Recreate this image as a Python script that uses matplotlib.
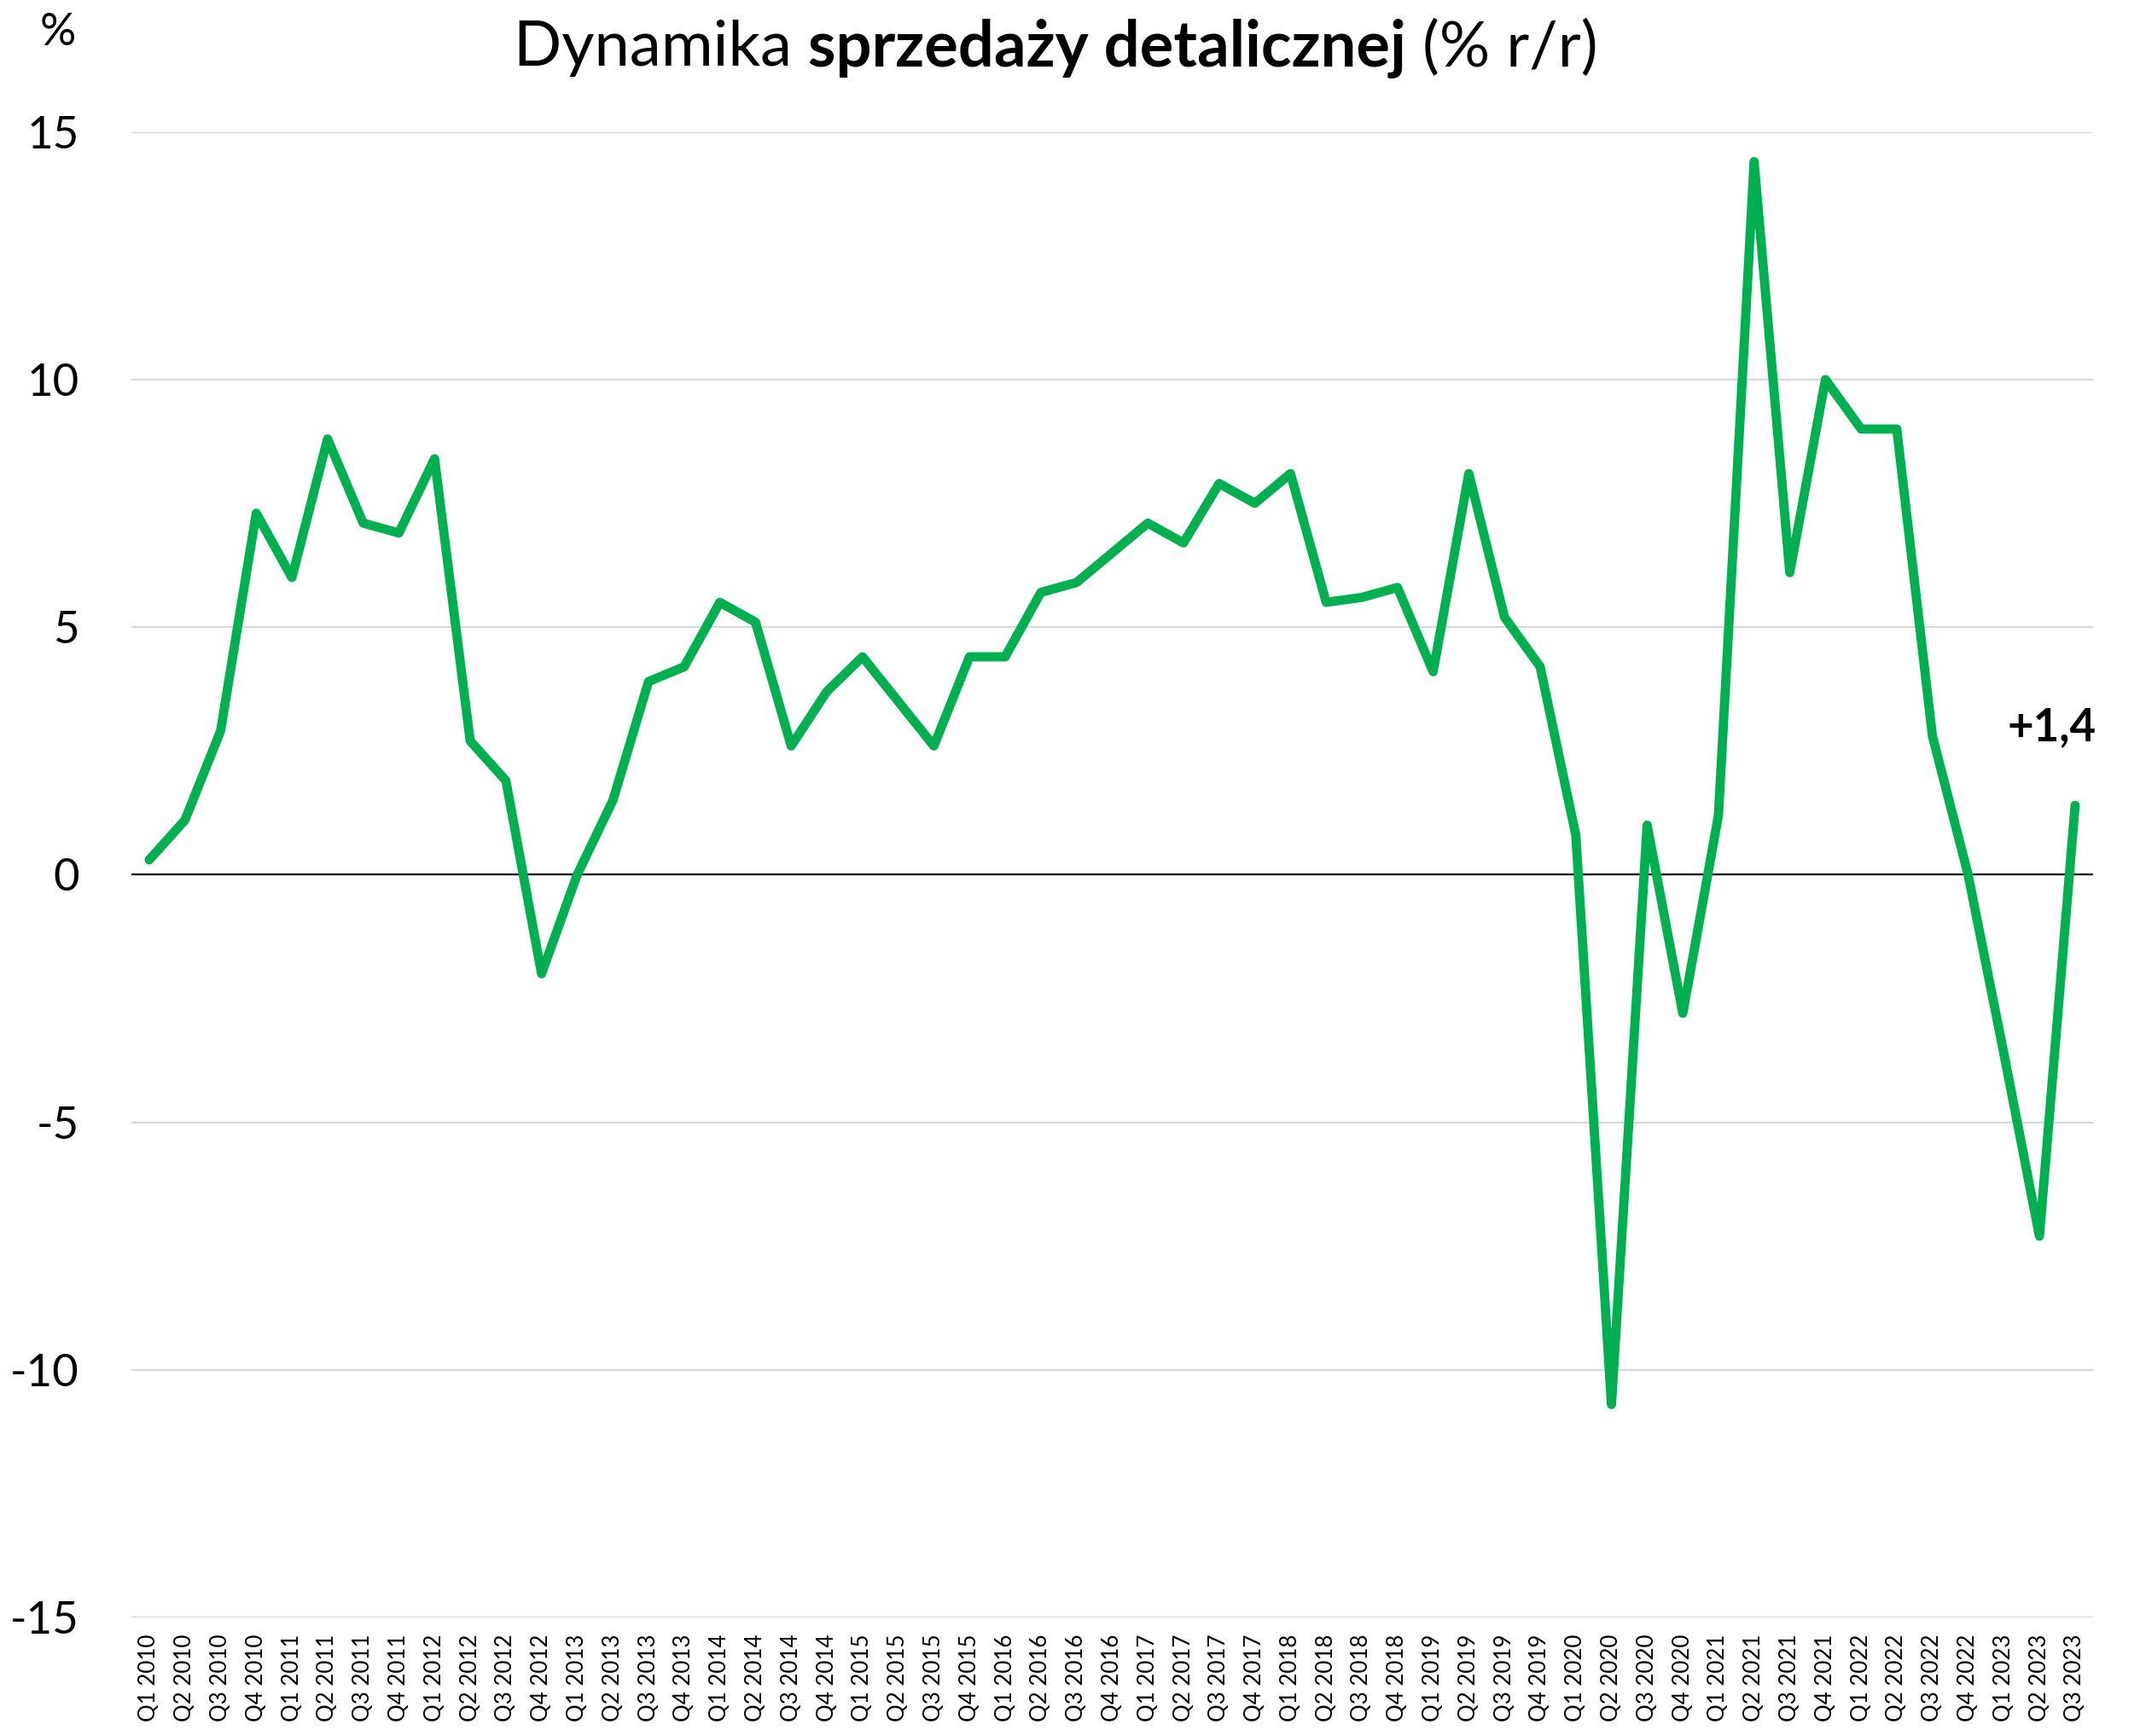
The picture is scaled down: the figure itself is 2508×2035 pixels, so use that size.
import matplotlib
matplotlib.use("Agg")
import matplotlib.pyplot as plt

plt.rcParams['font.family'] = ['Lato', 'DejaVu Sans']

years = list(range(2010, 2024))
quarters = [f"Q{q} {y}" for y in years for q in range(1, 5)][:55]
values = [0.3, 1.1, 2.9, 7.3,
          6.0, 8.8, 7.1, 6.9,
          8.4, 2.7, 1.9, -2.0,
          0.0, 1.5, 3.9, 4.2,
          5.5, 5.1, 2.6, 3.7,
          4.4, 3.5, 2.6, 4.4,
          4.4, 5.7, 5.9, 6.5,
          7.1, 6.7, 7.9, 7.5,
          8.1, 5.5, 5.6, 5.8,
          4.1, 8.1, 5.2, 4.2,
          0.8, -10.7, 1.0, -2.8,
          1.2, 14.4, 6.1, 10.0,
          9.0, 9.0, 2.8, 0.0,
          -3.6, -7.3, 1.4]
yticks = [-15, -10, -5, 0, 5, 10, 15]
title_parts = [("Dynamika ", "normal"), ("sprzedaży detalicznej", "bold"), (" (% r/r)", "normal")]
last_label = "+1,4"

fig = plt.figure(figsize=(12.54, 10.175), dpi=200)
ax = fig.add_axes([0.0614, 0.0683, 0.9166, 0.8557])

x = list(range(len(values)))
ax.plot(x, values, color="#00B050", lw=3.9, solid_joinstyle="round", solid_capstyle="round", zorder=3)

ax.set_xlim(-0.5, len(values) - 0.5)
ax.set_ylim(-15, 15)
ax.set_yticks(yticks)
ax.set_yticklabels([str(v) for v in yticks], fontsize=19)
ax.set_xticks(x)
ax.set_xticklabels(quarters, rotation=90, fontsize=9.3)
ax.tick_params(axis="y", length=0, pad=22)
ax.tick_params(axis="x", length=0, pad=7)
for s in ax.spines.values():
    s.set_visible(False)
ax.grid(axis="y", color="#D9D9D9", lw=0.8, zorder=0)
ax.axhline(0, color="black", lw=0.8, zorder=2)

ax.annotate(last_label, xy=(x[-1], values[-1]), xytext=(-10, 33), textcoords="offset points",
            ha="center", va="center", fontsize=19, fontweight="bold")

fig.text(0.027, 0.981, "%", fontsize=19, ha="center", va="center")

# mixed-weight title
fig.canvas.draw()
renderer = fig.canvas.get_renderer()
texts = []
for s, w in title_parts:
    t = fig.text(0, 0.972, s, fontsize=26.7, fontweight=w, ha="left", va="center")
    texts.append(t)
widths = [t.get_window_extent(renderer).width for t in texts]
total = sum(widths)
W = fig.bbox.width
start = 0.4935 * W - total / 2
for t, w in zip(texts, widths):
    t.set_x(start / W)
    start += w

fig.savefig("out.png", dpi=200)
